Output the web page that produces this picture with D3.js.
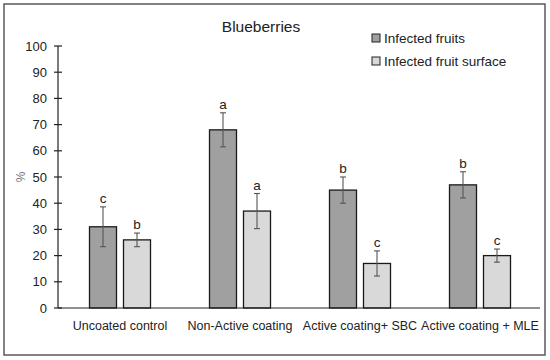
<!DOCTYPE html>
<html>
<head>
<meta charset="utf-8">
<script src="https://cdn.jsdelivr.net/npm/d3@7"></script>
<style>
  body { margin: 0; background: #fff; }
  text { font-family: "Liberation Sans", Arial, sans-serif; }
</style>
</head>
<body>
<script>
// data
var categories = ["Uncoated control", "Non-Active coating", "Active coating+ SBC", "Active coating + MLE"];
var seriesNames = ["Infected fruits", "Infected fruit surface"];
var fruits = [31, 68, 45, 47];
var fruitsErr = [7.6, 6.5, 5, 5];
var fruitsLetters = ["c", "a", "b", "b"];
var surface = [26, 37, 17, 20];
var surfaceErr = [2.6, 6.7, 4.8, 2.5];
var surfaceLetters = ["b", "a", "c", "c"];
var yTicks = [0, 10, 20, 30, 40, 50, 60, 70, 80, 90, 100];
var colors = ["#a0a0a0", "#d9d9d9"];

var W = 550, H = 360;
var svg = d3.select("body").append("svg").attr("width", W).attr("height", H);

// outer frame
svg.append("rect").attr("x", 4).attr("y", 4).attr("width", 541).attr("height", 351)
	.attr("fill", "#fff").attr("stroke", "#5a5a5a").attr("stroke-width", 1.5);

var x = d3.scaleBand().domain(categories).range([60, 540]);
var y = d3.scaleLinear().domain([0, 100]).range([308, 46]);
var barW = 27, gap = 7;

var rows = categories.map(function (c, i) {
	return [
		{ cat: c, s: 0, v: fruits[i], e: fruitsErr[i], l: fruitsLetters[i] },
		{ cat: c, s: 1, v: surface[i], e: surfaceErr[i], l: surfaceLetters[i] }
	];
});
var flat = [].concat.apply([], rows);
function bx(d) {
	var c = x(d.cat) + x.bandwidth() / 2;
	return d.s == 0 ? c - gap / 2 - barW : c + gap / 2;
}

// title
svg.append("text").attr("x", 261).attr("y", 32).attr("text-anchor", "middle")
	.attr("font-size", 15.5).attr("fill", "#222").text("Blueberries");

// y axis
var yAxis = svg.append("g").attr("transform", "translate(58,0)");
yAxis.append("line").attr("y1", y(0)).attr("y2", y(100)).attr("stroke", "#222").attr("stroke-width", 1.2);
yAxis.selectAll("line.tk").data(yTicks).enter().append("line").attr("class", "tk")
	.attr("x1", -4).attr("x2", 4).attr("y1", function (d) { return y(d); }).attr("y2", function (d) { return y(d); })
	.attr("stroke", "#222").attr("stroke-width", 1.2);
yAxis.selectAll("text").data(yTicks).enter().append("text")
	.attr("x", -11).attr("y", function (d) { return y(d); }).attr("dy", "0.35em")
	.attr("text-anchor", "end").attr("font-size", 13).attr("fill", "#222").text(function (d) { return d; });

svg.append("text").attr("transform", "translate(21,177) rotate(-90)").attr("text-anchor", "middle")
	.attr("dy", "0.35em").attr("font-size", 12).attr("fill", "#777").text("%");

// bars
svg.selectAll("rect.bar").data(flat).enter().append("rect").attr("class", "bar")
	.attr("x", bx).attr("width", barW)
	.attr("y", function (d) { return y(d.v); })
	.attr("height", function (d) { return y(0) - y(d.v); })
	.attr("fill", function (d) { return colors[d.s]; })
	.attr("stroke", "#1a1a1a").attr("stroke-width", 1.3);

// x axis line
svg.append("line").attr("x1", 58).attr("x2", 540).attr("y1", y(0)).attr("y2", y(0))
	.attr("stroke", "#222").attr("stroke-width", 1.2);

// error bars
var eb = svg.selectAll("g.err").data(flat).enter().append("g").attr("class", "err")
	.attr("stroke", "#555").attr("stroke-width", 1.1);
eb.append("line")
	.attr("x1", function (d) { return bx(d) + barW / 2; }).attr("x2", function (d) { return bx(d) + barW / 2; })
	.attr("y1", function (d) { return y(d.v + d.e); }).attr("y2", function (d) { return y(d.v - d.e); });
[1, -1].forEach(function (sg) {
	eb.append("line")
		.attr("x1", function (d) { return bx(d) + barW / 2 - 3; }).attr("x2", function (d) { return bx(d) + barW / 2 + 3; })
		.attr("y1", function (d) { return y(d.v + sg * d.e); }).attr("y2", function (d) { return y(d.v + sg * d.e); });
});

// letters
svg.selectAll("text.let").data(flat).enter().append("text").attr("class", "let")
	.attr("x", function (d) { return bx(d) + barW / 2; })
	.attr("y", function (d) { return y(d.v + d.e) - 4; })
	.attr("text-anchor", "middle").attr("font-size", 13.5).attr("fill", "#222").text(function (d) { return d.l; });

// category labels
svg.selectAll("text.cat").data(categories).enter().append("text").attr("class", "cat")
	.attr("x", function (d) { return x(d) + x.bandwidth() / 2; }).attr("y", 330)
	.attr("text-anchor", "middle").attr("font-size", 12.5).attr("fill", "#222").text(function (d) { return d; });

// legend
var lg = svg.selectAll("g.lg").data(seriesNames).enter().append("g").attr("class", "lg")
	.attr("transform", function (d, i) { return "translate(372," + (38 + i * 23) + ")"; });
lg.append("rect").attr("x", 0).attr("y", -4).attr("width", 8).attr("height", 8)
	.attr("fill", function (d, i) { return colors[i]; }).attr("stroke", "#222").attr("stroke-width", 1);
lg.append("text").attr("x", 12).attr("dy", "0.35em").attr("font-size", 13.5).attr("fill", "#222").text(function (d) { return d; });
</script>
</body>
</html>
